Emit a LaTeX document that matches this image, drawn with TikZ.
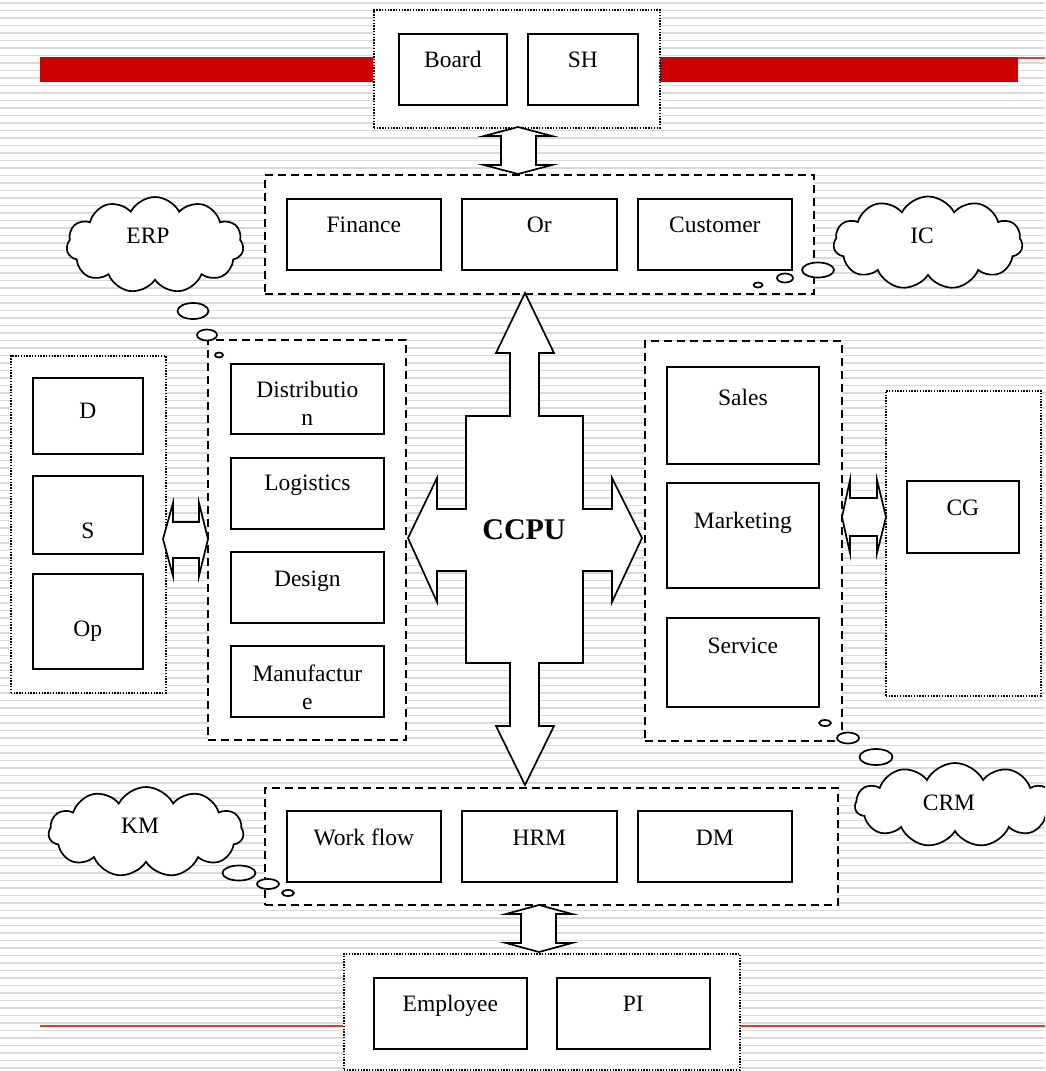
\documentclass[tikz,border=0pt]{standalone}
\usepackage{fontspec}
\setmainfont{Liberation Serif}
\usetikzlibrary{shapes.symbols,calc}
\definecolor{barred}{HTML}{CC0000}
\definecolor{linered}{HTML}{E03A3A}
\definecolor{stripe}{HTML}{DADADA}

\newcommand\ubox[5]{\node[box, minimum width=#4pt, minimum height=#5pt] (#1) at (#2,#3) {};}
\newcommand\grp[6]{\node[#6, minimum width=#4pt, minimum height=#5pt] (#1) at (#2,#3) {};}
\newcommand\txt[3]{\node[lbl] at ($(#1.north)+(0,#2)$) {#3};}

\begin{document}
\begin{tikzpicture}[x=1pt,y=-1pt,
  box/.style={draw, line width=1.7pt, fill=white, inner sep=0pt, anchor=north west},
  dashgrp/.style={draw, line width=1.7pt, dash pattern=on 8pt off 5pt, fill=white, inner sep=0pt, anchor=north west},
  dotgrp/.style={draw, line width=1.5pt, dash pattern=on 1.4pt off 1.4pt, fill=white, inner sep=0pt, anchor=north west},
  lbl/.style={anchor=base, inner sep=0pt, font=\fontsize{23.5}{28}\selectfont},
  blockarrow/.style={draw, line width=1.7pt, fill=white, line join=miter},
  thought/.style={draw, line width=1.7pt, fill=white},
  bubble/.style={cloud, cloud puffs=11, cloud puff arc=125, draw, line width=1.7pt, fill=white, inner sep=0pt}]

\useasboundingbox (0,0) rectangle (1045,1071);
\clip (0,0) rectangle (1045,1071);

% striped backdrop
\fill[white] (0,0) rectangle (1045,1071);
\foreach \i in {0,...,143}
  \draw[stripe, line width=1.7pt] (0,{3+\i*7.5}) -- (1045,{3+\i*7.5});

% red rules
\fill[barred] (40,57) rectangle (373,82);
\fill[barred] (659,57) rectangle (1018,82);
\draw[linered, line width=1.5pt] (1018,58) -- (1045,58);
\draw[linered, line width=1.5pt] (40,1026) -- (343,1026);
\draw[linered, line width=1.5pt] (739,1026) -- (1045,1026);

% group frames
\grp{topgrp}{373}{9}{286}{118}{dotgrp}
\grp{fingrp}{264}{174}{549}{119}{dashgrp}
\grp{leftgrp}{207}{339}{198}{400}{dashgrp}
\grp{rightgrp}{644}{340}{197}{400}{dashgrp}
\grp{dsgrp}{10}{355}{155}{337}{dotgrp}
\grp{cggrp}{885}{390}{155}{305}{dotgrp}
\grp{botgrp}{264}{787}{573}{117}{dashgrp}
\grp{empgrp}{343}{953}{396}{116}{dotgrp}

% boxes
\ubox{board}{398}{33}{108}{71}
\ubox{sh}{527}{33}{110}{71}
\ubox{fin}{286}{198}{154}{71}
\ubox{orr}{461}{198}{155}{71}
\ubox{cust}{637}{198}{154}{71}
\ubox{dist}{230}{363}{153}{70}
\ubox{logi}{230}{457}{153}{71}
\ubox{desi}{230}{551}{153}{71}
\ubox{manu}{230}{645}{153}{71}
\ubox{dd}{32}{377}{110}{76}
\ubox{ss}{32}{475}{110}{78}
\ubox{op}{32}{573}{110}{95}
\ubox{sales}{666}{366}{152}{97}
\ubox{mkt}{666}{482}{152}{105}
\ubox{serv}{666}{617}{152}{89}
\ubox{cg}{906}{480}{112}{72}
\ubox{wf}{286}{810}{154}{71}
\ubox{hrm}{461}{810}{155}{71}
\ubox{dm}{637}{810}{154}{71}
\ubox{emp}{373}{977}{153}{71}
\ubox{pi}{556}{977}{153}{71}

% box labels
\txt{board}{34}{Board}
\txt{sh}{34}{SH}
\txt{fin}{34}{Finance}
\txt{orr}{34}{Or}
\txt{cust}{34}{Customer}
\txt{dist}{34}{Distributio}
\txt{dist}{62}{n}
\txt{logi}{33}{Logistics}
\txt{desi}{35}{Design}
\txt{manu}{36}{Manufactur}
\txt{manu}{64}{e}
\txt{dd}{41}{D}
\txt{ss}{63}{S}
\txt{op}{63}{Op}
\txt{sales}{39}{Sales}
\txt{mkt}{46}{Marketing}
\txt{serv}{36}{Service}
\txt{cg}{35}{CG}
\txt{wf}{35}{Work flow}
\txt{hrm}{35}{HRM}
\txt{dm}{35}{DM}
\txt{emp}{34}{Employee}
\txt{pi}{34}{PI}

% central four-way arrow
\draw[blockarrow] (525,293) -- (554,353) -- (539,353) -- (539,416) -- (583,416)
  -- (583,509) -- (612,509) -- (612,478) -- (642,538) -- (612,602) -- (612,571)
  -- (583,571) -- (583,663) -- (539,663) -- (539,726) -- (554,726) -- (525,785)
  -- (496,726) -- (510,726) -- (510,663) -- (466,663) -- (466,571) -- (437,571)
  -- (437,602) -- (408,538) -- (437,478) -- (437,509) -- (466,509) -- (466,416)
  -- (510,416) -- (510,353) -- (496,353) -- cycle;
\node[anchor=base, inner sep=0pt, font=\fontsize{30}{34}\selectfont\bfseries] (ccpu) at (524,539) {CCPU};

% two-way links between groups
\draw[blockarrow] (518,127) -- (552,136) -- (536,136) -- (536,165) -- (552,165)
  -- (518,174) -- (484,165) -- (501,165) -- (501,136) -- (484,136) -- cycle;
\draw[blockarrow] (539,905) -- (572,914) -- (556,914) -- (556,943) -- (572,943)
  -- (539,952) -- (506,943) -- (521,943) -- (521,914) -- (506,914) -- cycle;
\draw[blockarrow] (163,539) -- (173,503) -- (173,522) -- (199,522) -- (199,503)
  -- (208,539) -- (199,576) -- (199,558) -- (173,558) -- (173,576) -- cycle;
\draw[blockarrow] (842,517) -- (850,480) -- (850,498) -- (877,498) -- (877,480)
  -- (886,517) -- (877,553) -- (877,536) -- (850,536) -- (850,553) -- cycle;

% thought clouds
\node[bubble, minimum width=177pt, minimum height=96pt] (erp) at (155,245) {};
\node[bubble, minimum width=189pt, minimum height=93pt] (ic) at (928,243) {};
\node[bubble, minimum width=195pt, minimum height=90pt] (km) at (146,832) {};
\node[bubble, minimum width=200pt, minimum height=84pt] (crm) at (955,805) {};
\node[lbl] at (148,243) {ERP};
\node[lbl] at (922,243) {IC};
\node[lbl] at (140,833) {KM};
\node[lbl] at (949,810) {CRM};

% trailing thought bubbles
\draw[thought] (193,311) ellipse [x radius=15.5pt, y radius=8pt];
\draw[thought] (207,335) ellipse [x radius=10pt, y radius=5.5pt];
\draw[thought] (219,355) ellipse [x radius=4pt, y radius=2.5pt];
\draw[thought] (818,270) ellipse [x radius=16pt, y radius=7.5pt];
\draw[thought] (785,278) ellipse [x radius=8pt, y radius=4.5pt];
\draw[thought] (758,285) ellipse [x radius=4.5pt, y radius=2.5pt];
\draw[thought] (239,873) ellipse [x radius=16.5pt, y radius=7.5pt];
\draw[thought] (268,884) ellipse [x radius=11pt, y radius=5pt];
\draw[thought] (288,893) ellipse [x radius=6pt, y radius=3pt];
\draw[thought] (825,723) ellipse [x radius=6pt, y radius=3pt];
\draw[thought] (848,738) ellipse [x radius=11pt, y radius=5.5pt];
\draw[thought] (876,757) ellipse [x radius=16.5pt, y radius=8pt];
\end{tikzpicture}
\end{document}
